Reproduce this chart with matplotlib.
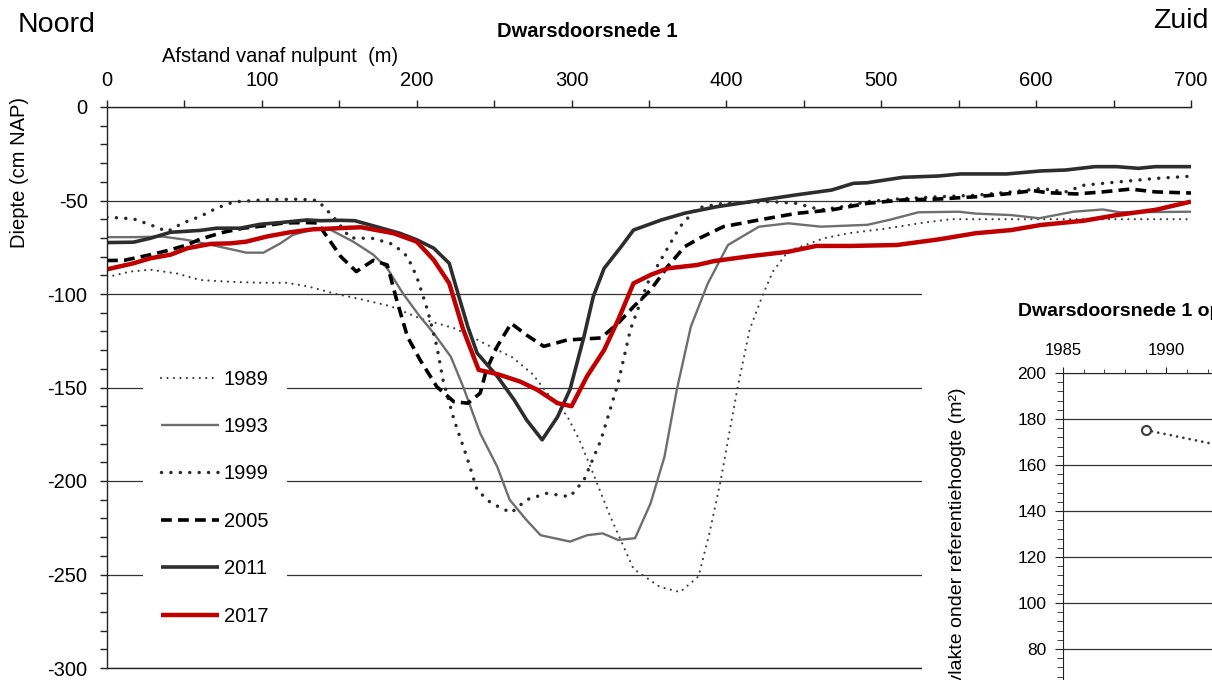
import matplotlib
matplotlib.use('Agg')
import matplotlib.pyplot as plt
from matplotlib.ticker import MultipleLocator, FixedLocator
from matplotlib.patches import Rectangle

plt.rcParams['font.family'] = ['Liberation Sans', 'DejaVu Sans']

# ---------------- data ----------------
years = ['1989', '1993', '1999', '2005', '2011', '2017']

x1989 = [0, 15, 28, 45, 60, 80, 100, 116, 130, 148, 165, 183, 202, 225, 245, 262, 275, 288, 297, 305,
         312, 325, 340, 357, 370, 382, 389, 396, 407, 415, 423, 430, 440, 451, 463, 479, 503, 526, 545,
         600, 650, 700]
y1989 = [-91, -88, -87, -89, -92.5, -93.5, -94, -94, -96, -100, -103, -106.5, -113, -118.5, -127, -134,
         -143, -157, -165, -178, -192, -219, -247, -256.6, -259.4, -251, -228, -201, -151, -119, -101.5,
         -88, -77, -73.8, -70.2, -67.5, -65, -62, -60, -60, -60, -60]

x1993 = [0, 17, 36, 51, 67, 77, 90, 101, 112, 120, 133, 144, 159, 172, 181, 191, 202, 211, 222, 230,
         241, 252, 260, 271, 280, 299, 310, 320, 330, 341, 351, 360, 368, 377, 388, 401, 421, 440, 461,
         491, 505, 524, 550, 561, 584, 602, 624, 643, 654, 700]
y1993 = [-69.6, -69.6, -69.3, -71, -73.7, -75.5, -77.9, -77.9, -72.9, -68.4, -65.4, -65.5, -72, -79,
         -86.3, -99.6, -112, -121, -133.5, -149.6, -174.5, -192.4, -210, -221, -229, -232.4, -229, -228,
         -231.5, -230.6, -212, -187, -151, -117.5, -94.3, -73.8, -64, -62.2, -64, -63, -60.4, -56.3,
         -56, -57, -57.8, -59.5, -56, -54.8, -56.3, -56]

x1999 = [0, 17, 28, 39, 49, 60, 71, 82, 103, 125, 136, 146, 157, 172, 185, 194, 200, 207, 213, 217, 224,
         233, 239, 248, 261, 271, 284, 299, 308, 319, 330, 338, 349, 360, 370, 381, 398, 428, 445, 461,
         475, 491, 514, 537, 561, 584, 603, 619, 631, 654, 677, 700]
y1999 = [-58.9, -59.8, -63, -66.6, -62, -58.6, -54, -50.7, -49.6, -49.3, -50, -58.6, -70, -70.3, -73.5,
         -80, -90.7, -108.6, -128, -146, -167, -188.8, -204.8, -211.8, -217, -210, -206.6, -208.4,
         -199.5, -178, -147.8, -119, -94.3, -78.3, -64, -54, -51.5, -50.6, -51.5, -55, -53.3, -50.6,
         -49, -48, -47.2, -45.4, -43.6, -45.4, -41.8, -40, -38.2, -37]

x2005 = [0, 11, 28, 39, 52, 60, 75, 88, 101, 114, 129, 136, 142, 151, 161, 172, 181, 187, 194, 202, 213,
         224, 233, 241, 245, 252, 261, 271, 282, 291, 297, 319, 330, 340, 351, 362, 373, 383, 398, 421,
         445, 468, 491, 514, 537, 561, 584, 598, 607, 626, 643, 661, 677, 700]
y2005 = [-82.1, -82, -79, -76.8, -73.7, -70.7, -67, -64.8, -63.6, -62, -61.8, -62, -69.3, -80, -88, -82,
         -84.5, -103, -122.8, -135, -149.6, -157.6, -158.4, -153, -140.6, -128, -115.7, -122, -128,
         -126, -124.6, -123.5, -115.7, -106.8, -97.9, -85.4, -74.7, -70, -64, -60.4, -56.9, -55, -51.5,
         -49.7, -49.2, -48, -46.2, -44.7, -45.8, -46.5, -45.4, -43.9, -45.4, -46]

x2011 = [0, 17, 28, 41, 60, 71, 86, 99, 112, 129, 138, 151, 160, 174, 189, 200, 211, 221, 226, 233, 239,
         252, 263, 271, 281, 291, 299, 308, 314, 321, 332, 340, 358, 373, 394, 416, 445, 468, 482, 491,
         514, 537, 551, 581, 603, 619, 638, 652, 666, 677, 700]
y2011 = [-72.5, -72.3, -70.2, -67, -66, -64.8, -64.8, -62.7, -61.8, -60.4, -60.8, -60.6, -60.8, -64,
         -67.5, -71, -75.5, -83.6, -97.9, -117.5, -131.6, -144, -156.7, -167.4, -178, -165.6, -151,
         -122.8, -101.4, -86.3, -74.7, -65.8, -60.4, -56.8, -53.3, -50.6, -47, -44.4, -40.8, -40.5,
         -37.6, -36.9, -35.8, -35.8, -34.2, -33.7, -31.9, -31.9, -32.8, -31.9, -31.9]

x2017 = [0, 17, 28, 41, 52, 67, 80, 90, 103, 118, 133, 150, 164, 185, 200, 211, 221, 230, 240, 252, 267,
         278, 291, 300, 310, 321, 330, 340, 351, 362, 381, 392, 416, 440, 458, 480, 510, 537, 561, 584,
         603, 631, 652, 677, 700]
y2017 = [-86.8, -83.6, -80.9, -79, -75.5, -73.2, -72.9, -72, -69.3, -67, -65.4, -64.8, -64.3, -67.5,
         -72, -81.8, -94.3, -119, -140.6, -142.8, -146.9, -151.3, -158.4, -160, -144, -130, -114, -94.3,
         -89.8, -86.3, -84.5, -82.4, -79.7, -77.4, -74.3, -74.3, -73.8, -70.8, -67.5, -65.8, -63.1,
         -60.8, -57.8, -55, -50.6]

inset_years = [1989, 1993]
inset_area = [175.2, 167.8]
inset_xticks = [1985, 1990]
inset_yticks = [80, 100, 120, 140, 160, 180, 200]

series_x = [x1989, x1993, x1999, x2005, x2011, x2017]
series_y = [y1989, y1993, y1999, y2005, y2011, y2017]

# ---------------- styles ----------------
styles = [
    dict(color='#3c3c3c', lw=1.6, ls=(0, (0.01, 2.9)), dash_capstyle='round'),
    dict(color='#6e6e6e', lw=1.7, ls='-'),
    dict(color='#2a2a2a', lw=2.5, ls=(0, (0.01, 2.7)), dash_capstyle='round'),
    dict(color='#000000', lw=2.6, ls=(0, (3.0, 1.7))),
    dict(color='#2d2d2d', lw=2.6, ls='-'),
    dict(color='#c00000', lw=3.2, ls='-'),
]

W, H = 1212, 680
fig = plt.figure(figsize=(W / 100, H / 100), dpi=100)


def fx(px):
    return px / W


def fy(py):
    return 1 - py / H


FS = 14.5

ax = fig.add_axes([fx(107), fy(668), (1191 - 107) / W, (668 - 107) / H])
ax.set_zorder(0)
for xs, ys, st, lab in zip(series_x, series_y, styles, years):
    ax.plot(xs, ys, label=lab, solid_capstyle='butt', **st)

ax.set_xlim(0, 700)
ax.set_ylim(-300, 0)
ax.xaxis.set_major_locator(MultipleLocator(100))
ax.xaxis.set_minor_locator(MultipleLocator(50))
ax.yaxis.set_major_locator(MultipleLocator(50))
ax.yaxis.set_minor_locator(MultipleLocator(10))
ax.tick_params(axis='x', which='both', top=True, bottom=False, labeltop=True, labelbottom=False,
               direction='out', length=5, width=1, color='#222222', pad=7, labelsize=FS)
ax.tick_params(axis='y', which='both', left=True, right=False, direction='out', length=5, width=1,
               color='#222222', pad=9, labelsize=FS)
ax.set_yticks(range(-300, 1, 50))
ax.set_yticklabels([str(v) for v in range(-300, 1, 50)])
ax.grid(axis='y', which='major', color='#333333', lw=0.9)
ax.set_axisbelow(True)
ax.spines['right'].set_visible(False)
for s in ['top', 'left', 'bottom']:
    ax.spines[s].set_color('#222222')
    ax.spines[s].set_linewidth(1.0)

leg = ax.legend(loc='upper left', bbox_to_anchor=((143 - 107) / 1084, 1 - (351.5 - 107) / 561),
                frameon=True, fancybox=False, facecolor='white', edgecolor='none', framealpha=1,
                fontsize=FS, handlelength=2.85, handletextpad=0.25, labelspacing=1.41,
                borderpad=0.9, borderaxespad=0)

# texts
fig.text(fx(18), fy(31.5), 'Noord', fontsize=20.5, ha='left', va='baseline')
fig.text(fx(1208), fy(28), 'Zuid', fontsize=20.5, ha='right', va='baseline')
fig.text(fx(587), fy(37), 'Dwarsdoorsnede 1', fontsize=14.5, fontweight='bold', ha='center',
         va='baseline')
fig.text(fx(162), fy(62), 'Afstand vanaf nulpunt  (m)', fontsize=FS, ha='left', va='baseline')
fig.text(fx(20), fy(173), 'Diepte (cm NAP)', fontsize=FS, rotation=90, ha='center', va='center')

# inset panel background
fig.add_artist(Rectangle((fx(922), 0), 1 - fx(922), fy(290), transform=fig.transFigure,
                         facecolor='white', edgecolor='none', zorder=2))

ax2 = fig.add_axes([fx(1063), fy(373 + 460), 723 / W, 460 / H])
ax2.set_zorder(3)
ax2.plot(inset_years, inset_area, color='#3c3c3c', lw=2.0, ls=(0, (0.01, 2.3)),
         dash_capstyle='round', marker='o', ms=6.5, mfc='white', mec='#3c3c3c', mew=1.5)
ax2.set_xlim(1985, 2020)
ax2.set_ylim(0, 200)
ax2.xaxis.set_major_locator(FixedLocator(inset_xticks))
ax2.xaxis.set_minor_locator(MultipleLocator(1))
ax2.yaxis.set_major_locator(FixedLocator(inset_yticks))
ax2.yaxis.set_minor_locator(MultipleLocator(4))
ax2.tick_params(axis='x', which='both', top=True, bottom=False, labeltop=True, labelbottom=False,
                direction='out', color='#222222', pad=7, labelsize=12)
ax2.tick_params(axis='x', which='major', length=4)
ax2.tick_params(axis='x', which='minor', length=3)
ax2.tick_params(axis='y', which='major', length=6, direction='out', color='#222222', pad=6,
                labelsize=12.5)
ax2.tick_params(axis='y', which='minor', length=4, direction='out', color='#222222')
ax2.grid(axis='y', which='major', color='#333333', lw=0.9)
ax2.set_axisbelow(True)
ax2.spines['right'].set_visible(False)
ax2.spines['bottom'].set_visible(False)
for s in ['top', 'left']:
    ax2.spines[s].set_color('#222222')

t1 = fig.text(fx(1018), fy(316), 'Dwarsdoorsnede 1 oppervlakte', fontsize=14, fontweight='bold',
              ha='left', va='baseline')
t1.set_zorder(4)
t2 = fig.text(fx(958), fy(387), 'Oppervlakte onder referentiehoogte (m²)', fontsize=14, rotation=90,
              ha='center', va='top')
t2.set_zorder(4)

fig.savefig('out.png', dpi=100)
